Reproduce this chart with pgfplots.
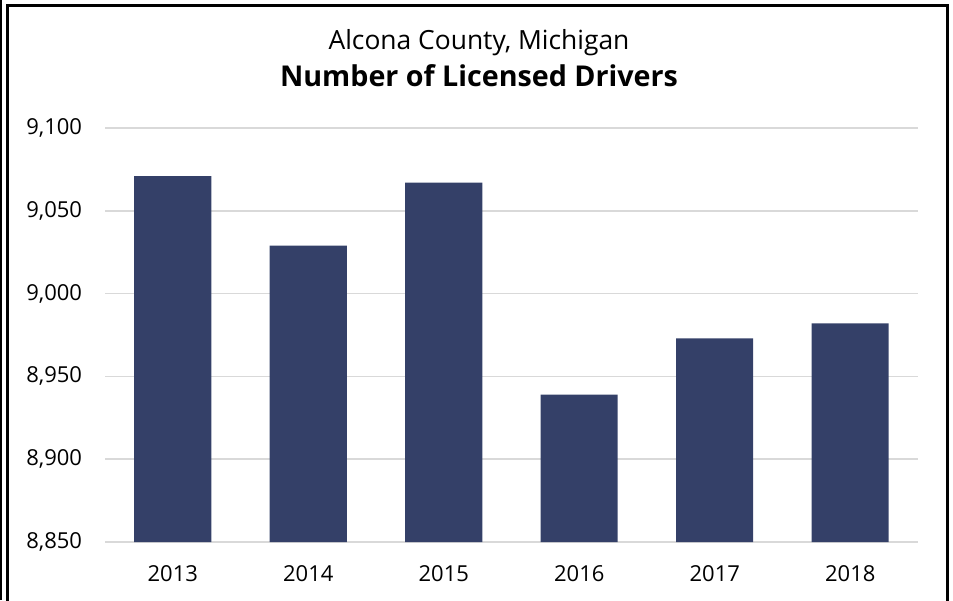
\documentclass[border=0pt]{standalone}
\usepackage{fontspec}
\setmainfont{Open Sans}
\usepackage{pgfplots}
\pgfplotsset{compat=1.18}
\definecolor{barc}{HTML}{344068}
\definecolor{gridc}{HTML}{D9D9D9}
\begin{document}
\begin{tikzpicture}[x=0.75pt,y=0.75pt]
\useasboundingbox (0,0) rectangle (953,600);
\draw[black,line width=1.2pt] (0.8,0) -- (0.8,600);
\draw[black,line width=1.6pt] (7.5,-10) -- (7.5,594.5) -- (947.5,594.5) -- (947.5,-10);
\node[anchor=base,inner sep=0pt,font=\fontsize{19.8}{23}\selectfont] at (479,550) {Alcona County, Michigan};
\node[anchor=base,inner sep=0pt,font=\fontsize{21.5}{24}\selectfont\bfseries] at (479,513) {Number of Licensed Drivers};
\begin{axis}[
  at={(78.75pt,43.5pt)}, anchor=south west,
  scale only axis, width=609.75pt, height=310.5pt,
  xmin=-0.5, xmax=5.5, ymin=8850, ymax=9100,
  ytick={8850,8900,8950,9000,9050,9100},
  xtick={0,1,2,3,4,5},
  xticklabels={2013,2014,2015,2016,2017,2018},
  ymajorgrids, grid style={gridc,line width=1.1pt},
  axis line style={draw=none}, major tick style={draw=none},
  /pgf/number format/assume math mode=true,
  /pgf/number format/1000 sep={,},
  yticklabel style={font=\fontsize{16.5}{20}\selectfont, anchor=east, inner sep=0pt, xshift=-17pt},
  xticklabel style={font=\fontsize{16.5}{20}\selectfont, anchor=north, inner sep=0pt, yshift=-13.5pt},
  ybar, bar width=57.75pt,
]
\addplot[fill=barc, draw=none] coordinates {(0,9071) (1,9029) (2,9067) (3,8939) (4,8973) (5,8982)};
\end{axis}
\end{tikzpicture}
\end{document}
